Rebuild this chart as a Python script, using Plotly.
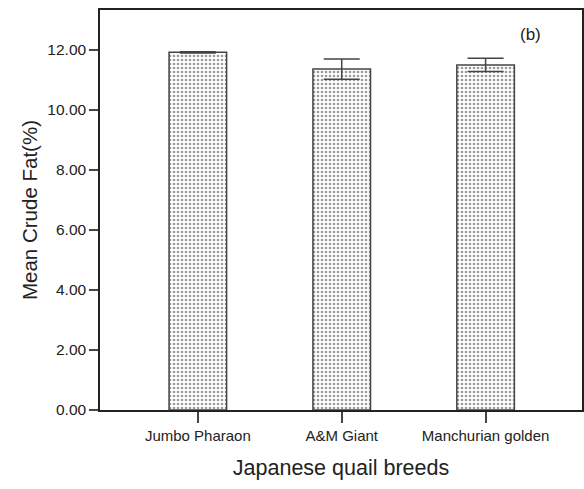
import plotly.graph_objects as go

breeds = ["Jumbo Pharaon", "A&M Giant", "Manchurian golden"]
mean_fat = [11.92, 11.36, 11.50]
err_fat = [0.02, 0.34, 0.22]
y_ticks = [0, 2, 4, 6, 8, 10, 12]
y_tick_labels = ["0.00", "2.00", "4.00", "6.00", "8.00", "10.00", "12.00"]

fig = go.Figure()
fig.add_trace(go.Bar(
    x=list(range(len(breeds))), y=mean_fat, width=0.40,
    marker=dict(color="white",
                line=dict(color="#444444", width=1.5),
                pattern=dict(shape=".", fgcolor="#9a9a9a", bgcolor="white",
                             size=4, solidity=0.35, fillmode="replace")),
    error_y=dict(type="data", array=err_fat, visible=True,
                 color="#444444", thickness=1.5, width=18),
    showlegend=False,
))

fig.update_layout(
    width=584, height=489,
    margin=dict(l=100, r=2, t=10, b=79, autoexpand=False),
    paper_bgcolor="white", plot_bgcolor="white",
    font=dict(family="Liberation Sans, Arial, sans-serif", color="#222222"),
    xaxis=dict(range=[-0.68, 2.67], tickvals=list(range(len(breeds))), ticktext=breeds,
               showline=True, linecolor="#222222", linewidth=1.5, mirror=True,
               ticks="outside", ticklen=11, tickwidth=1.5, tickcolor="#444444",
               tickfont=dict(size=15), showgrid=False, zeroline=False, automargin=False,
               title=dict(text="Japanese quail breeds", font=dict(size=21.5), standoff=17)),
    yaxis=dict(range=[0, 13.33], tickvals=y_ticks, ticktext=y_tick_labels,
               showline=True, linecolor="#222222", linewidth=1.5, mirror=True,
               ticks="outside", ticklen=9, tickwidth=1.5, tickcolor="#444444",
               tickfont=dict(size=15.5), showgrid=False, zeroline=False, automargin=False,
               title=dict(text="Mean Crude Fat(%)", font=dict(size=20.5), standoff=4)),
    annotations=[dict(text="(b)", x=0.92, y=0.967, xref="paper", yref="paper",
                      showarrow=False, font=dict(size=17, color="#222222"))],
)

fig.write_html("out.html", config={"displayModeBar": False},
               post_script="document.body.style.margin='0px';document.body.style.overflow='hidden';")
